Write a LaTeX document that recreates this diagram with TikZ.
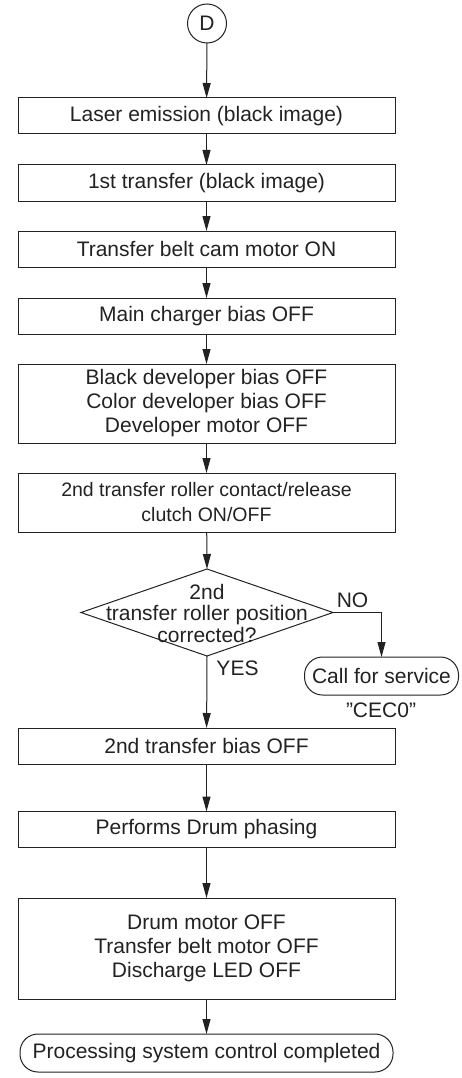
\documentclass[tikz,border=0pt]{standalone}
\usepackage{fontspec}
\setmainfont[Ligatures=NoCommon]{Liberation Sans}
\usetikzlibrary{arrows.meta,shapes.geometric}
\definecolor{ink}{HTML}{222222}
\begin{document}
\begin{tikzpicture}[x=1pt,y=-1pt,
  base/.style={draw=ink, line width=1pt, inner sep=0pt, outer sep=0pt, align=center, text=ink, font=\fontsize{21}{24}\selectfont},
  box/.style={base, rectangle, minimum width=377pt},
  term/.style={base, rectangle, rounded corners=18pt, minimum height=38pt},
  lbl/.style={inner sep=0pt, text=ink, font=\fontsize{21}{24}\selectfont},
  arr/.style={-{Triangle[length=15pt,width=8pt]}, line width=1pt, draw=ink}
]
\useasboundingbox (0,0) rectangle (461,1078);

\node[base, circle, minimum size=39pt] (d) at (207,23.5) {D};
\node[box, minimum height=36pt] (b1) at (206.5,116) {Laser emission (black image)};
\node[box, minimum height=36pt] (b2) at (206.5,183) {1st transfer (black image)};
\node[box, minimum height=36pt] (b3) at (206.5,249) {Transfer belt cam motor ON};
\node[box, minimum height=36pt] (b4) at (206.5,316) {Main charger bias OFF};
\node[box, minimum height=79pt] (b5) at (206.5,403.5) {Black developer bias OFF\\Color developer bias OFF\\Developer motor OFF};
\node[box, minimum height=59pt, font=\fontsize{19.5}{25}\selectfont] (b6) at (206.5,502.5) {2nd transfer roller contact/release\\clutch ON/OFF};
\node[base, diamond, minimum width=252pt, minimum height=87pt] (dec) at (207,612.5) {};
\node[lbl, align=center, font=\fontsize{21}{21.5}\selectfont] (dect) at (207,613) {2nd\\transfer roller position\\corrected?};
\node[term, minimum width=154pt] (cs) at (381.5,676) {Call for service};
\node[lbl] (cec) at (381,710) {\symbol{34}CEC0\symbol{34}};
\node[lbl] (no) at (352.5,600) {NO};
\node[lbl] (yes) at (237.5,668) {YES};
\node[box, minimum height=36pt] (b7) at (206.5,746) {2nd transfer bias OFF};
\node[box, minimum height=36pt] (b8) at (206.5,829.5) {Performs Drum phasing};
\node[box, minimum height=101pt] (b9) at (206.5,948.5) {Drum motor OFF\\Transfer belt motor OFF\\Discharge LED OFF};
\node[term, minimum width=373pt] (end) at (206.5,1053) {Processing system control completed};

\draw[arr] (d) -- (b1);
\draw[arr] (b1) -- (b2);
\draw[arr] (b2) -- (b3);
\draw[arr] (b3) -- (b4);
\draw[arr] (b4) -- (b5);
\draw[arr] (b5) -- (b6);
\draw[arr] (b6) -- (dec.north);
\draw[arr] (dec.east) -| (cs.north);
\draw[arr] (dec.south) -- (b7);
\draw[arr] (b7) -- (b8);
\draw[arr] (b8) -- (b9);
\draw[arr] (b9) -- (end);
\end{tikzpicture}
\end{document}
